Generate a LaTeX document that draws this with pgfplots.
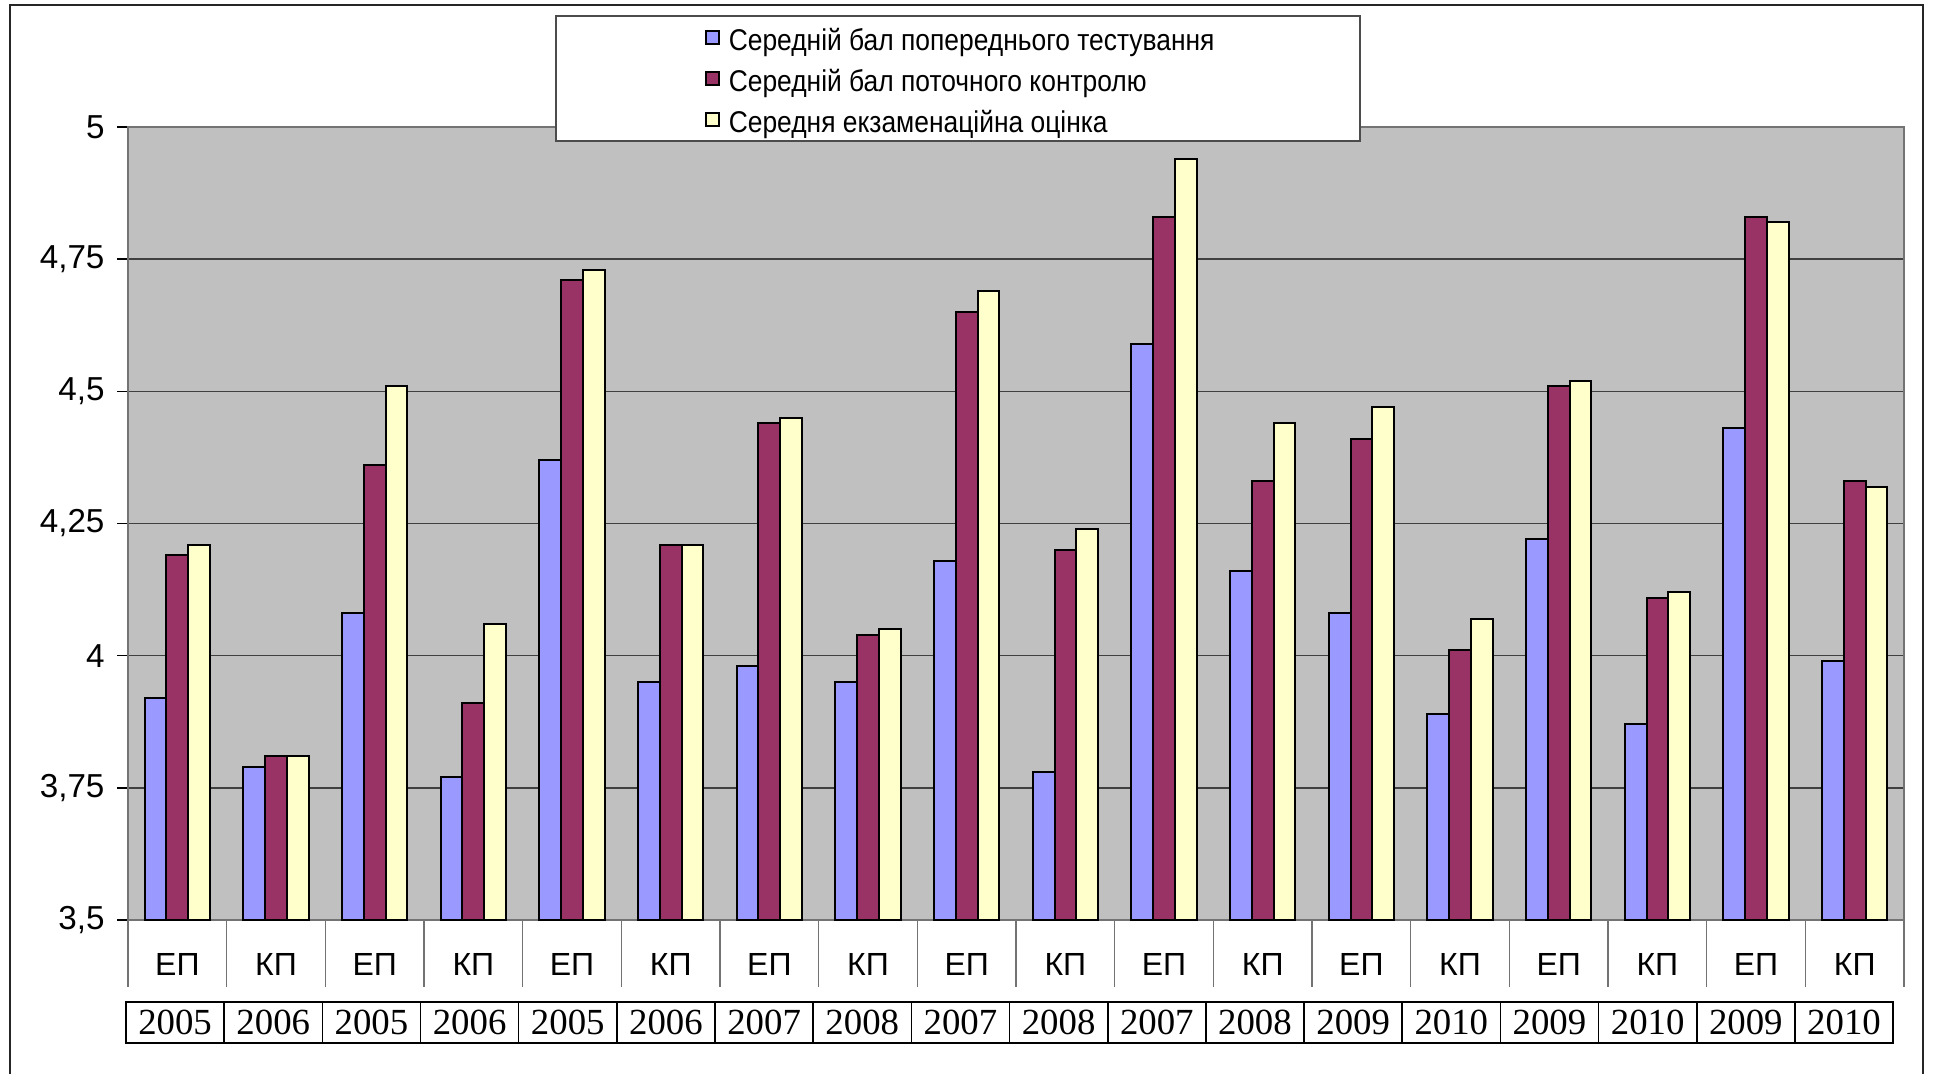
\documentclass[border=0pt]{standalone}
\usepackage{fontspec}
\setmainfont{Liberation Sans}
\newfontfamily\narrowsans[FakeStretch=0.88]{Liberation Sans}
\newfontfamily\timesf{Liberation Serif}
\usepackage{pgfplots}
\pgfplotsset{compat=1.18}
\definecolor{cBlue}{HTML}{9999FF}
\definecolor{cRed}{HTML}{993366}
\definecolor{cYel}{HTML}{FFFFCC}
\definecolor{cBg}{HTML}{C0C0C0}
\begin{document}
\begin{tikzpicture}
\path[use as bounding box] (0,0) rectangle (483.25pt,268.5pt);
\begin{axis}[
  at={(32pt,38.5pt)}, anchor=south west,
  scale only axis, width=444pt, height=198.25pt,
  xmin=-0.5, xmax=17.5, ymin=3.5, ymax=5,
  clip mode=individual,
  axis background/.style={fill=cBg},
  axis line style={draw=black!55, line width=0.5pt},
  ytick={3.5,3.75,4,4.25,4.5,4.75,5},
  /pgf/number format/assume math mode=true,
  yticklabel style={/pgf/number format/use comma, font=\fontsize{8.3}{9}\selectfont, xshift=0.4pt},
  ymajorgrids, major grid style={draw=black!75, line width=0.35pt},
  tick align=outside,
  xtick pos=lower, ytick pos=left,
  major tick length=2.75pt, minor tick length=16.75pt,
  xtick={0,...,17},
  xticklabels={ЕП,КП,ЕП,КП,ЕП,КП,ЕП,КП,ЕП,КП,ЕП,КП,ЕП,КП,ЕП,КП,ЕП,КП},
  xticklabel style={font=\fontsize{8}{9}\selectfont, anchor=base, yshift=-11.2pt},
  minor xtick={-0.5,0.5,...,17.5},
  major x tick style={draw=none},
  minor x tick style={draw=black!55, line width=0.35pt},
  major y tick style={draw=black, line width=0.35pt},
  legend cell align=left,
  legend style={at={(axis description cs:0.3243,1.125)}, anchor=north west,
    draw=none, fill=none, font=\narrowsans\fontsize{7.5}{8.5}\selectfont,
    inner sep=0pt, row sep=3.1pt, column sep=2.2pt, nodes={inner sep=0pt}},
  legend image code/.code={\draw[#1, line width=0.5pt] (0pt,-0.4pt) rectangle (3.3pt,2.9pt);},
]
\addplot[ybar, bar width=0.22, bar shift=-0.22, fill=cBlue, draw=black, line width=0.5pt]
  coordinates {(0,3.92) (1,3.79) (2,4.08) (3,3.77) (4,4.37) (5,3.95) (6,3.98) (7,3.95) (8,4.18)
               (9,3.78) (10,4.59) (11,4.16) (12,4.08) (13,3.89) (14,4.22) (15,3.87) (16,4.43) (17,3.99)};
\addlegendentry{Середній бал попереднього тестування}
\addplot[ybar, bar width=0.22, bar shift=0, fill=cRed, draw=black, line width=0.5pt]
  coordinates {(0,4.19) (1,3.81) (2,4.36) (3,3.91) (4,4.71) (5,4.21) (6,4.44) (7,4.04) (8,4.65)
               (9,4.20) (10,4.83) (11,4.33) (12,4.41) (13,4.01) (14,4.51) (15,4.11) (16,4.83) (17,4.33)};
\addlegendentry{Середній бал поточного контролю}
\addplot[ybar, bar width=0.22, bar shift=0.22, fill=cYel, draw=black, line width=0.5pt]
  coordinates {(0,4.21) (1,3.81) (2,4.51) (3,4.06) (4,4.73) (5,4.21) (6,4.45) (7,4.05) (8,4.69)
               (9,4.24) (10,4.94) (11,4.44) (12,4.47) (13,4.07) (14,4.52) (15,4.12) (16,4.82) (17,4.32)};
\addlegendentry{Середня екзаменаційна оцінка}
\draw[fill=white, draw=black!70, line width=0.3pt]
  (axis description cs:0.24099,1.13997) rectangle (axis description cs:0.69369,0.98235);
\end{axis}
\begin{scope}[shift={(0pt,268.5pt)}, x=0.25pt, y=-0.25pt]
  \draw[line width=0.45pt, black!85] (10,1074) -- (10,5) -- (1923,5) -- (1923,1074);
  \foreach \yr [count=\i from 0] in {2005,2006,2005,2006,2005,2006,2007,2008,2007,2008,2007,2008,2009,2010,2009,2010,2009,2010}
    \node[font=\timesf\fontsize{9.2}{10}\selectfont, inner sep=0pt] at ({126+98.17*(\i+0.5)},1022.5) {\yr};
  \foreach \i in {1,...,17}
    \draw[line width=0.4pt] ({126+98.17*\i},1002) -- ({126+98.17*\i},1043);
  \draw[line width=0.55pt] (126,1002) rectangle (1893,1043);
\end{scope}
\end{tikzpicture}
\end{document}
